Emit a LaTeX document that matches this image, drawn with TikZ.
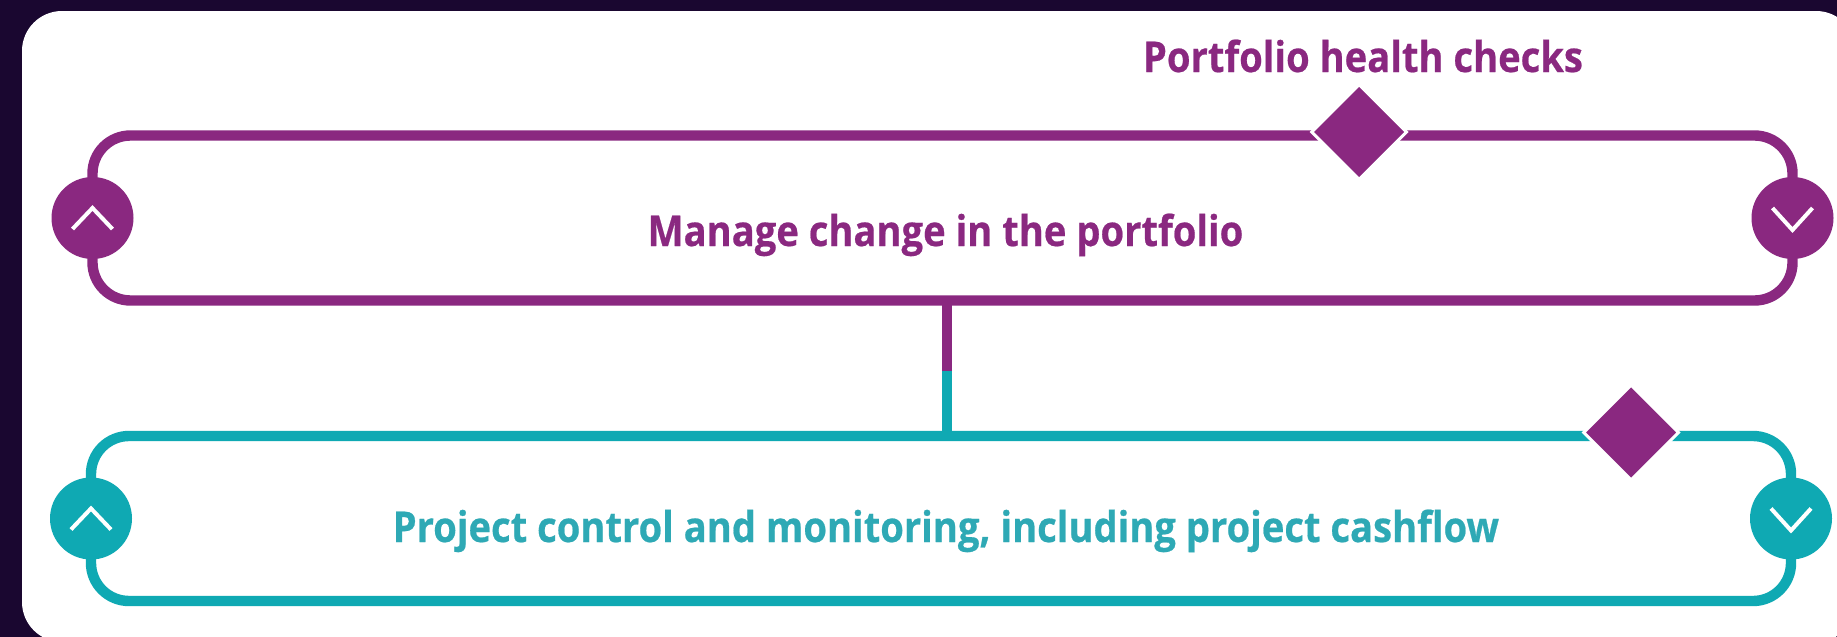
\documentclass[tikz,border=0pt]{standalone}
\usepackage{fontspec}
\setmainfont{Open Sans}[FakeStretch=0.9,BoldFeatures={FakeBold=0.5}]
\usetikzlibrary{positioning}
\usetikzlibrary{shapes.geometric}
\definecolor{panelback}{HTML}{1A0730}
\definecolor{plum}{HTML}{8A2880}
\definecolor{teal}{HTML}{0FA9B3}
\definecolor{tealtext}{HTML}{2EA9B5}
\tikzset{
    trackbox/.style={draw=#1,line width=5.2pt,rectangle,rounded corners=19pt,
        minimum width=850pt,minimum height=82.5pt,inner sep=0pt,outer sep=0pt},
    endcap/.style={fill=#1,circle,minimum size=41pt,inner sep=0pt,outer sep=0pt},
    gate/.style={diamond,fill=plum,draw=white,line width=1.5pt,aspect=1,
        minimum size=48pt,inner sep=0pt},
    tracklabel/.style={anchor=base,text=#1,font=\fontsize{21.2}{25}\selectfont\bfseries},
    chevron/.style={draw=white,line width=2pt},
}

\begin{document}
\begin{tikzpicture}[x=0.5pt,y=-0.5pt]
    \useasboundingbox[fill=panelback] (0,0) rectangle (1837,637);
    \fill[white,rounded corners=20pt] (22,11) rectangle (1856,642);

    \node[trackbox=plum] (boxA) at (942.5,218) {};
    \node[trackbox=teal] (boxB) at (941,518.5) {};

    % link between the two tracks
    \coordinate (join) at (947,371);
    \draw[plum,line width=5.2pt] (join |- boxA.south) -- (join);
    \draw[teal,line width=5.2pt] (join) -- (join |- boxB.north);

    \foreach \track/\col in {boxA/plum,boxB/teal}{%
        \node[endcap=\col] (\track open) at (\track.west) {};
        \node[endcap=\col] (\track close) at (\track.east) {};
        \draw[chevron] ([shift={(-20,11)}]\track open.center) -- ([shift={(0,-10)}]\track open.center) -- ([shift={(20,11)}]\track open.center);
        \draw[chevron] ([shift={(-20,-10)}]\track close.center) -- ([shift={(0,12)}]\track close.center) -- ([shift={(20,-10)}]\track close.center);
    }

    \node[gate] (checkA) at (1359,132) {};
    \node[gate] (checkB) at (1631,432.5) {};

    \node[tracklabel=plum] (titleA) at (945.5,246) {Manage change in the portfolio};
    \node[tracklabel=plum] (titleC) at (1363,72) {Portfolio health checks};
    \node[tracklabel=tealtext] (titleB) at (946,542) {Project control and monitoring, including project cashflow};
\end{tikzpicture}
\end{document}
